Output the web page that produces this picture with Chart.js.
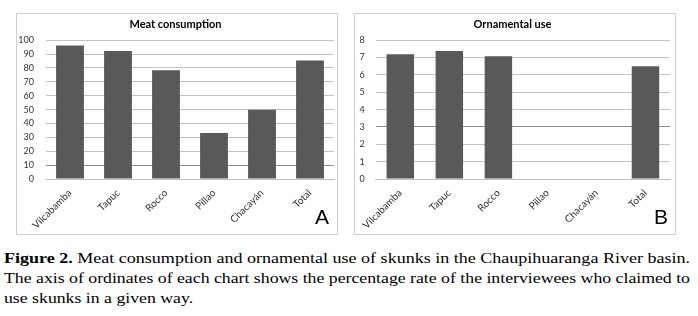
<!DOCTYPE html>
<html>
<head>
<meta charset="utf-8">
<script src="https://cdn.jsdelivr.net/npm/chart.js@4.4.1/dist/chart.umd.min.js"></script>
<style>
  body { margin: 0; background: #fff; width: 698px; height: 316px; position: relative; overflow: hidden; }
  .box { position: absolute; top: 13px; width: 320px; height: 220px; border: 1px solid #d0d0d0; }
  .box canvas { position: absolute; left: 0; top: 0; }
  .tag { position: absolute; top: 205px; font-family: "Liberation Sans", Arial, sans-serif; font-size: 21px; color: #000; }
  .caption { position: absolute; left: 4px; top: 249px; width: 686px; color: #000;
             font-family: "Liberation Serif", serif; font-size: 14px; line-height: 20px; }
  .caption div { white-space: nowrap; height: 20px; }
  .caption span { display: inline-block; transform-origin: 0 0; font-family: "Liberation Serif", serif; }
</style>
</head>
<body>
<div class="box" style="left:16px"><canvas id="meat" width="320" height="220"></canvas></div>
<div class="box" style="left:354px"><canvas id="orna" width="320" height="220"></canvas></div>
<div class="tag" style="left:315px">A</div>
<div class="tag" style="left:654px">B</div>
<div class="caption">
  <div><span><b>Figure 2.</b> Meat consumption and ornamental use of skunks in the Chaupihuaranga River basin.</span></div>
  <div><span>The axis of ordinates of each chart shows the percentage rate of the interviewees who claimed to</span></div>
  <div><span>use skunks in a given way.</span></div>
</div>

<script>
const places = ['Vilcabamba', 'Tapuc', 'Rocco', 'Pillao', 'Chacayán', 'Total'];
const meatValues = [96.2, 92.3, 78.4, 33.1, 49.9, 85.4];
const ornamentalValues = [7.19, 7.38, 7.08, 0, 0, 6.5];
const meatTicks = [0, 100, 10];      // min, max, step
const ornamentalTicks = [0, 8, 1];

const font = '"Lato", "Open Sans", sans-serif';

// the scanned caption is stretched sideways, so widen each line to the full width
const lines = document.querySelectorAll('.caption span');
const sx = 686 / lines[1].getBoundingClientRect().width;
lines.forEach((el, i) => {
  const s = i < 2 ? 686 / el.getBoundingClientRect().width : sx;
  el.style.transform = `scaleX(${s})`;
});

function makeChart(id, title, values, ticks, opts) {
  const ctx = document.getElementById(id).getContext('2d');
  return new Chart(ctx, {
    type: 'bar',
    data: {
      labels: places,
      datasets: [{
        data: values,
        backgroundColor: '#595959',
        categoryPercentage: 1,
        barPercentage: opts.barPct,
      }],
    },
    options: {
      responsive: false,
      animation: false,
      layout: { padding: { left: 0, right: opts.padRight, top: 0, bottom: 0 } },
      plugins: {
        legend: { display: false },
        tooltip: { enabled: false },
        title: {
          display: true,
          text: title,
          color: '#000',
          font: { family: font, size: 11, weight: 'bold' },
          padding: { top: 4, bottom: 9 },
        },
      },
      scales: {
        x: {
          grid: { display: false, drawTicks: false },
          border: { display: true, color: '#bfbfbf' },
          ticks: {
            autoSkip: false,
            maxRotation: 45,
            minRotation: 45,
            padding: 8,
            color: '#333',
            font: { family: font, size: 10 },
          },
          afterFit: (scale) => { scale.height = 55; },
        },
        y: {
          min: ticks[0],
          max: ticks[1],
          grid: {
            drawTicks: false,
            color: (c) => (opts.darkLines.includes(c.tick.value) ? '#8c8c8c' : '#c4c4c4'),
          },
          border: { display: false },
          ticks: {
            stepSize: ticks[2],
            padding: opts.tickPad,
            color: '#333',
            font: { family: font, size: 9 },
          },
          afterFit: (scale) => { scale.width = opts.yWidth; },
        },
      },
    },
  });
}

makeChart('meat', 'Meat consumption', meatValues, meatTicks,
  { barPct: 0.58, padRight: 3, yWidth: 29, tickPad: 12, darkLines: [10] });
makeChart('orna', 'Ornamental use', ornamentalValues, ornamentalTicks,
  { barPct: 0.56, padRight: 5, yWidth: 18, tickPad: 11, darkLines: [3] });
</script>
</body>
</html>
